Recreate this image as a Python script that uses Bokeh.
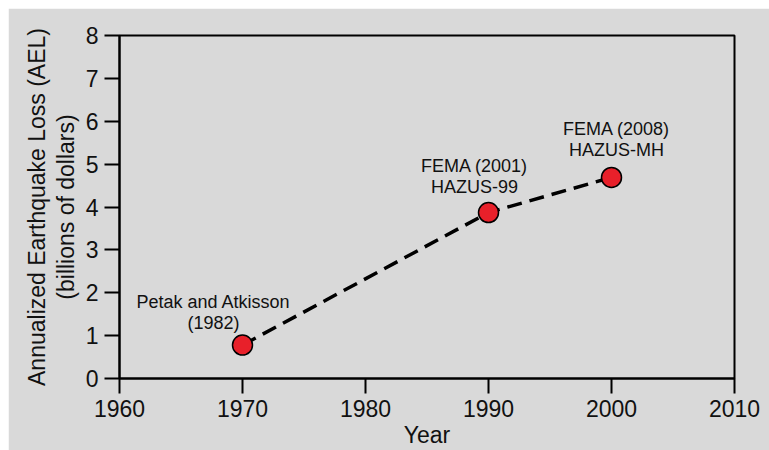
from bokeh.plotting import figure
from bokeh.models import ColumnDataSource, Range1d, FixedTicker
from bokeh.embed import file_html
from bokeh.resources import INLINE
from bokeh.core.properties import value

# Data
years = [1970, 1990, 2000]
losses = [0.78, 3.87, 4.69]
labels = ["Petak and Atkisson\n(1982)", "FEMA (2001)\nHAZUS-99", "FEMA (2008)\nHAZUS-MH"]
x_ticks = [1960, 1970, 1980, 1990, 2000, 2010]
y_ticks = [0, 1, 2, 3, 4, 5, 6, 7, 8]

# label placement (screen pixels)
lab_dx = [-29, -14, 5]
lab_dy = [-12, -16, -17]

FONT = "Liberation Sans"
BG = "#d9d9d9"

src = ColumnDataSource(dict(x=years, y=losses, text=labels, dx=lab_dx, dy=lab_dy))

p = figure(width=761, height=442, output_backend="svg", toolbar_location=None,
           x_range=Range1d(1960, 2010), y_range=Range1d(0, 8),
           min_border_left=111, min_border_right=35, min_border_top=27, min_border_bottom=69)
p.styles = {"margin-top": "8px", "margin-left": "8px"}

p.background_fill_color = BG
p.border_fill_color = BG
p.outline_line_color = "black"
p.outline_line_width = 2
p.grid.visible = False

for ax in (p.xaxis[0], p.yaxis[0]):
    ax.axis_line_width = 2
    ax.axis_line_color = "black"
    ax.major_tick_line_width = 2
    ax.major_tick_out = 15
    ax.major_tick_in = 0
    ax.minor_tick_out = 0
    ax.minor_tick_in = 0
    ax.major_label_text_font = FONT
    ax.major_label_text_font_size = "23px"
    ax.major_label_text_color = "#111111"
    ax.axis_label_text_font = FONT
    ax.axis_label_text_font_size = "23px"
    ax.axis_label_text_font_style = "normal"
    ax.axis_label_text_color = "#111111"

p.xaxis.ticker = FixedTicker(ticks=x_ticks)
p.yaxis.ticker = FixedTicker(ticks=y_ticks)
p.xaxis.axis_label = "Year"
p.yaxis.axis_label = "Annualized Earthquake Loss (AEL)\n(billions of dollars)"
p.yaxis.axis_label_text_line_height = 1.1
p.xaxis.major_label_standoff = 6
p.yaxis.major_label_standoff = 6
p.xaxis.axis_label_standoff = 2
p.yaxis.axis_label_standoff = 4

p.line("x", "y", source=src, line_color="black", line_width=3.5, line_dash="15 8")
p.scatter("x", "y", source=src, size=20, fill_color="#e8202a", line_color="black", line_width=1.5)
p.text("x", "y", text="text", source=src, x_offset="dx", y_offset="dy",
       text_align="center", text_baseline="bottom", text_font=value(FONT),
       text_font_size="18px", text_color="#111111", text_line_height=1.05)

open("out.html", "w").write(file_html(p, INLINE))
